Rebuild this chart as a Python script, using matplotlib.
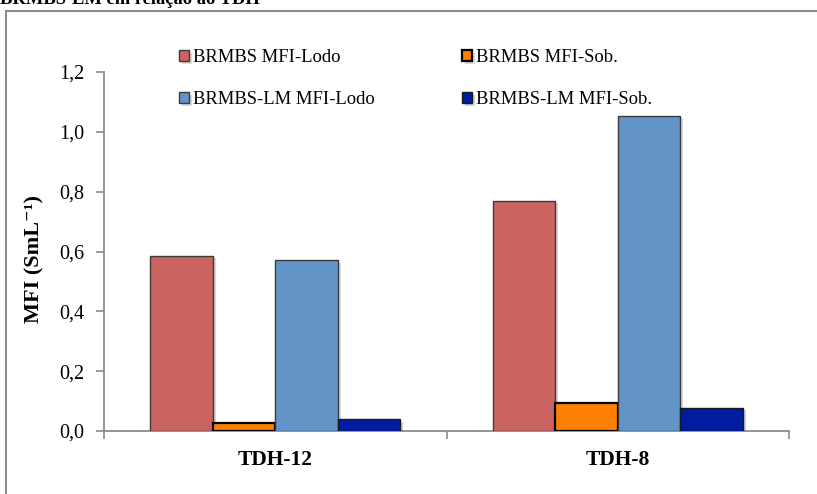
import matplotlib as mpl
import matplotlib.pyplot as plt
import matplotlib.patheffects as pe
from matplotlib.patches import Rectangle
import numpy as np

mpl.rcParams['font.family'] = ['Liberation Serif', 'DejaVu Serif']

categories = ['TDH-12', 'TDH-8']
series_names = ['BRMBS MFI-Lodo', 'BRMBS MFI-Sob.',
                'BRMBS-LM MFI-Lodo', 'BRMBS-LM MFI-Sob.']
brmbs_lodo = [0.586, 0.770]
brmbs_sob = [0.027, 0.094]
brmbs_lm_lodo = [0.572, 1.054]
brmbs_lm_sob = [0.039, 0.078]
y_ticks = [0.0, 0.2, 0.4, 0.6, 0.8, 1.0, 1.2]

values = [brmbs_lodo, brmbs_sob, brmbs_lm_lodo, brmbs_lm_sob]
colors = ['#CB6460', '#FF7F00', '#6394C8', '#001CA0']
edges = ['#3a3a3a', '#000000', '#3a3a3a', '#1a1a1a']
edge_w = [1.0, 1.6, 1.0, 1.0]

W, H = 817, 494
fig = plt.figure(figsize=(W / 100, H / 100), dpi=100)
ax = fig.add_axes([104 / W, 1 - 431 / H, (789 - 104) / W, (431 - 72) / H])

# outer chart frame
fig.patches.append(Rectangle((6 / W, -0.1), 1.2, 1 - 11 / H + 0.1,
                             transform=fig.transFigure, fill=False,
                             edgecolor='#8c8c8c', linewidth=1.5))
fig.text(0.0, 1.0, 'BRMBS-LM em relação ao TDH', fontsize=13.3, fontweight='bold',
         ha='left', va='center')

x = np.arange(len(categories))
width = 0.1825
shadow = [pe.SimplePatchShadow(offset=(2, -2), alpha=0.18), pe.Normal()]
bars = []
for i, (vals, c) in enumerate(zip(values, colors)):
    b = ax.bar(x + (i - 1.5) * width, vals, width, color=c,
               edgecolor=edges[i], linewidth=edge_w[i], label=series_names[i],
               zorder=3)
    for r in b:
        r.set_path_effects(shadow)
    bars.append(b)

ax.set_xlim(-0.5, 1.5)
ax.set_ylim(0, 1.2)
ax.set_yticks(y_ticks)
ax.set_yticklabels([f'{t:.1f}'.replace('.', ',') for t in y_ticks], fontsize=14.5)

ax.set_xticks([-0.5, 0.5, 1.5])
ax.set_xticklabels([])
ax.set_xticks(x, minor=True)
ax.set_xticklabels(categories, minor=True, fontsize=15.5, fontweight='bold')
ax.tick_params(axis='x', which='major', direction='out', length=6, color='#8c8c8c', width=1.2)
ax.tick_params(axis='x', which='minor', length=0, pad=14)
ax.tick_params(axis='y', direction='out', length=6, color='#8c8c8c', width=1.2, pad=8)

for s in ['top', 'right']:
    ax.spines[s].set_visible(False)
for s in ['left', 'bottom']:
    ax.spines[s].set_color('#8c8c8c')
    ax.spines[s].set_linewidth(1.3)

ax.set_ylabel('MFI (SmL⁻¹)', fontsize=16, fontweight='bold')
ax.yaxis.set_label_coords((44 - 104) / 685, 0.48)

# legend in two columns, filled column by column
handles = [bars[0], bars[2], bars[1], bars[3]]
labels = [series_names[0], series_names[2], series_names[1], series_names[3]]
leg = fig.legend(handles, labels, ncol=2, frameon=False, fontsize=13.4,
                 loc='upper left', bbox_to_anchor=(179 / W, 1 - 49 / H),
                 handlelength=0.55, handleheight=0.55, handletextpad=0.2,
                 columnspacing=4.7, labelspacing=1.35, borderpad=0,
                 borderaxespad=0)

plt.savefig('out.png', dpi=100)
